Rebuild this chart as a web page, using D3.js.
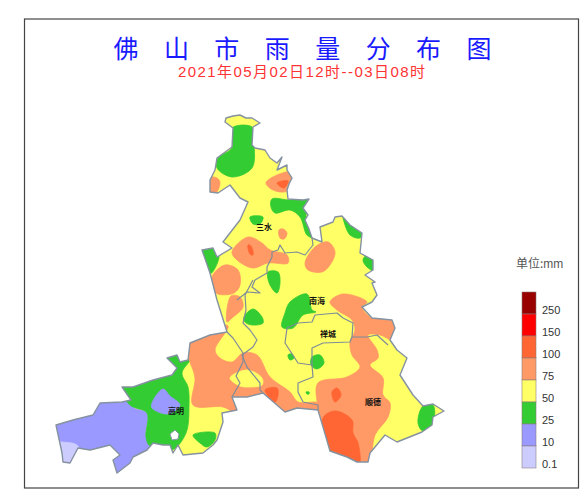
<!DOCTYPE html>
<html><head><meta charset="utf-8">
<script src="https://cdnjs.cloudflare.com/ajax/libs/d3/7.8.5/d3.min.js"></script>
<style>html,body{margin:0;padding:0;background:#fff}svg{display:block}</style></head>
<body><svg id="c" width="585" height="500"></svg>
<script>
const titleChars = ["佛","山","市","雨","量","分","布","图"];
const subtitle = "2021年05月02日12时--03日08时";
const unitLabel = "单位:";
const unitSuffix = "mm";
const legendLabels = ["250","150","100","75","50","25","10","0.1"];
const legendColors = ["#990000","#ff0000","#ff6633","#ff9966","#ffff66","#33cc33","#9999ff","#ccccff"];
const placeNames = [["三水",264,227],["南海",317,301],["禅城",328,334],["顺德",373,402],["高明",176,411]];

// map-unit outlines
const outline = [[226,118],[233,116],[240,115],[246,118],[252,118],[260,123],[253,127],[252,145],[255,148],[265,150],[270,158],[277,163],[282,157],[277,170],[287,165],[287,170],[292,178],[289,184],[287,190],[288,199],[303,200],[309,199],[303,208],[308,215],[305,220],[309,229],[312,238],[322,242],[320,227],[333,222],[335,217],[342,216],[350,225],[362,233],[360,253],[373,260],[373,270],[365,275],[375,282],[372,283],[377,295],[372,302],[362,307],[372,318],[392,320],[395,328],[390,340],[397,350],[407,358],[400,375],[413,395],[423,406],[433,404],[444,411],[433,417],[432,425],[422,432],[397,442],[385,435],[370,453],[368,462],[357,462],[347,457],[330,451],[323,427],[318,410],[297,408],[285,412],[263,393],[247,397],[232,397],[237,410],[222,413],[223,422],[217,440],[213,445],[203,453],[183,455],[178,445],[173,453],[170,445],[163,445],[153,443],[147,450],[133,457],[130,463],[117,473],[113,460],[120,455],[110,445],[90,450],[78,448],[70,463],[63,462],[62,453],[56,425],[73,420],[93,415],[100,403],[122,402],[131,400],[122,387],[133,387],[153,380],[172,375],[177,368],[167,358],[177,355],[180,362],[188,360],[190,343],[210,335],[227,332],[217,300],[210,273],[202,250],[213,248],[217,257],[232,248],[223,242],[240,220],[248,202],[240,198],[230,185],[218,193],[210,192],[210,180],[215,170],[217,158],[232,147],[233,128],[225,122]];
const lake = [[170,434],[175,430],[179,434],[178,439],[172,440]];
const districtLines = [
 [[312,238],[313,245],[305,255],[297,252],[285,253],[280,245],[278,250],[272,252],[272,257],[267,267],[267,273],[255,280],[252,287],[260,293],[247,292],[237,300]],
 [[253,280],[245,295],[246,310],[243,323],[250,330],[257,340],[253,347],[242,355],[247,367],[260,383],[260,390],[263,393]],
 [[227,332],[233,338],[243,353],[243,362],[236,376],[240,383],[232,397]],
 [[287,328],[285,343],[298,363],[312,365],[312,348],[323,343],[350,342],[352,337],[367,337],[377,335],[388,345]],
 [[287,328],[298,323],[312,322],[315,315],[337,313],[343,318],[353,323],[352,337]],
 [[312,365],[313,377],[298,383],[298,392],[303,402],[318,405],[318,410]]
];
const regions10 = [
 [[40,520],[40,395],[130,390],[133,407],[147,413],[146,437],[153,443],[165,460],[120,490]]
];
const regions10Inner = [
 [[163,389],[170,396],[180,405],[168,414],[152,408],[152,403]]
];
const regionsPale = [[[46,442],[62,442],[78,446],[80,472],[46,476]]];
const regions25 = [
 [[160,345],[192,355],[182,373],[188,387],[189,405],[186,433],[172,450],[150,446],[146,437],[147,413],[130,405],[115,380],[150,365]],
 [[193,435],[215,433],[215,440],[207,447],[200,443]],
 [[232,128],[252,127],[254,143],[252,168],[232,177],[217,168],[218,158],[232,148]],
 [[272,199],[290,200],[303,198],[312,196],[306,215],[308,223],[314,238],[307,235],[300,217],[290,210],[275,213],[271,207]],
 [[250,217],[263,217],[260,224],[253,224]],
 [[198,246],[215,246],[219,257],[210,274],[203,262]],
 [[268,272],[278,272],[280,283],[277,293],[270,285]],
 [[343,216],[350,224],[364,232],[360,238],[350,235]],
 [[367,255],[375,259],[375,271],[367,267],[363,260]],
 [[290,302],[307,294],[312,310],[316,312],[303,315],[293,328],[282,327],[285,313]],
 [[244,317],[253,309],[262,317],[263,323],[252,325],[245,322]],
 [[288,355],[292,354],[294,358],[290,360]],
 [[312,357],[320,355],[324,363],[317,369],[311,365]],
 [[306,392],[309,392],[309,394],[307,394]],
 [[423,406],[433,405],[433,423],[423,431],[418,423]]
];
const regions75 = [
 [[190,362],[186,350],[190,335],[210,328],[228,326],[215,350],[220,358],[232,362],[243,353],[257,355],[270,377],[290,392],[298,402],[318,403],[318,414],[285,415],[263,396],[240,400],[239,414],[223,407],[193,405],[195,378]],
 [[227,322],[231,296],[240,297],[243,307],[232,318]],
 [[212,277],[225,265],[238,270],[240,285],[234,293],[216,293]],
 [[232,252],[248,237],[262,243],[270,250],[287,255],[288,263],[268,263],[253,268],[237,260]],
 [[305,263],[315,247],[328,242],[335,252],[330,265],[322,272],[308,270]],
 [[266,183],[277,175],[294,172],[287,191],[273,190]],
 [[205,178],[217,178],[220,183],[215,194],[205,194]],
 [[279,230],[283,229],[287,233],[284,239],[280,238]],
 [[330,302],[343,294],[367,302],[362,307],[372,318],[397,320],[397,342],[380,335],[368,335],[377,350],[378,358],[370,365],[383,378],[383,395],[390,403],[388,417],[375,435],[369,462],[357,464],[340,455],[323,427],[318,407],[318,383],[347,377],[360,367],[352,355],[350,342],[355,330],[352,320],[337,310]]
];
const regions50Patches = [
 [[230,378],[247,370],[262,378],[262,385],[250,387],[240,386]]
];
const regions100 = [
 [[248,245],[251,246],[253,255],[250,254]],
 [[277,183],[288,181],[284,188]],
 [[265,390],[277,388],[278,395],[275,402]],
 [[332,392],[337,388],[341,395],[335,402]],
 [[323,418],[335,411],[352,420],[353,433],[358,443],[359,464],[347,460],[328,451]]
];
const layerOrder = [
 {level:6,list:regions10},{level:7,list:regionsPale},{level:5,list:regions25},{level:6,list:regions10Inner},
 {level:3,list:regions75},{level:4,list:regions50Patches},{level:2,list:regions100}
];

const W=585,H=500;
const svg=d3.select("#c");
const x=d3.scaleLinear().domain([0,585]).range([0,W]);
const y=d3.scaleLinear().domain([0,500]).range([0,H]);
const poly=d3.line().x(d=>x(d[0])).y(d=>y(d[1])).curve(d3.curveLinearClosed);
const openL=d3.line().x(d=>x(d[0])).y(d=>y(d[1]));
const smooth=d3.line().x(d=>x(d[0])).y(d=>y(d[1])).curve(d3.curveCatmullRomClosed.alpha(.5));

svg.append("rect").attr("x",24.5).attr("y",19).attr("width",554).attr("height",469)
 .attr("fill","#fff").attr("stroke","#444").attr("stroke-width",1.2);

const cn='"Noto Sans CJK SC"', lat='"Liberation Sans"';
const tx=d3.scalePoint().domain(titleChars).range([126,479]);
svg.selectAll(".t").data(titleChars).join("text").attr("class","t")
 .attr("x",d=>tx(d)).attr("y",58).attr("text-anchor","middle")
 .attr("font-family",cn).attr("font-size",25).attr("fill","#1a1aff").text(d=>d);
svg.append("text").attr("x",178).attr("y",77).attr("textLength",247).attr("lengthAdjust","spacing")
 .attr("font-family",lat+","+cn).attr("font-size",15).attr("fill","#ff3333").text(subtitle);

svg.append("clipPath").attr("id","cp").append("path").attr("d",poly(outline));
const g=svg.append("g").attr("clip-path","url(#cp)");
g.append("path").attr("d",poly(outline)).attr("fill",legendColors[4]);
layerOrder.forEach(r=>{
 g.selectAll(null).data(r.list).join("path").attr("d",d=>smooth(d)).attr("fill",legendColors[r.level])
  .attr("stroke",legendColors[r.level]).attr("stroke-width",.8).attr("stroke-linejoin","round");
});
svg.append("path").attr("d",poly(lake)).attr("fill","#fff").attr("stroke","#8a97a5").attr("stroke-width",1);
svg.selectAll(".d").data(districtLines).join("path").attr("class","d").attr("d",d=>openL(d))
 .attr("fill","none").attr("stroke","#7f8c9a").attr("stroke-width",1.2).attr("stroke-linejoin","round");
svg.append("path").attr("d",poly(outline)).attr("fill","none").attr("stroke","#8592a0").attr("stroke-width",1.4).attr("stroke-linejoin","round");

svg.selectAll(".p").data(placeNames).join("text").attr("class","p")
 .attr("x",d=>x(d[1])).attr("y",d=>y(d[2])+3).attr("text-anchor","middle")
 .attr("font-family",cn).attr("font-size",8).attr("font-weight",700).attr("fill","#111").text(d=>d[0]);

const ly=d3.scaleBand().domain(legendLabels).range([292,468]);
svg.selectAll(".lg").data(legendLabels).join("rect").attr("class","lg")
 .attr("x",522).attr("width",14).attr("y",d=>ly(d)).attr("height",ly.bandwidth())
 .attr("fill",(d,i)=>legendColors[i]).attr("stroke","#8a7a7a").attr("stroke-opacity",.7).attr("stroke-width",.8);
svg.selectAll(".ll").data(legendLabels).join("text").attr("class","ll")
 .attr("x",542).attr("y",d=>ly(d)+ly.bandwidth()-.5).attr("font-family",lat).attr("font-size",11)
 .attr("fill","#333").text(d=>d);
const u=svg.append("text").attr("x",516).attr("y",268).attr("font-size",12).attr("fill","#555");
u.append("tspan").attr("font-family",cn).text(unitLabel);
u.append("tspan").attr("font-family",lat).text(unitSuffix);
</script></body></html>
